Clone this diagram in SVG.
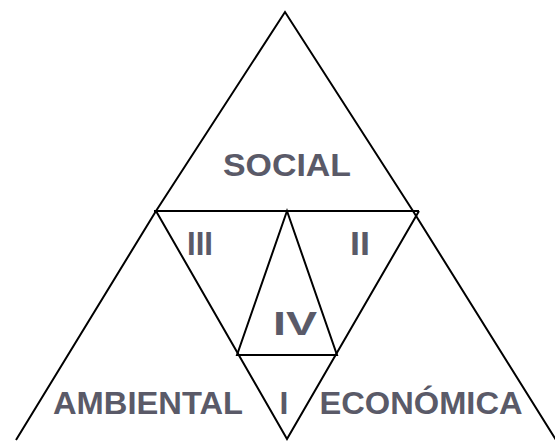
<svg xmlns="http://www.w3.org/2000/svg" width="555" height="441" viewBox="0 0 555 441">
<style>
.ln{stroke:#000;stroke-width:2;fill:none;stroke-linejoin:miter}
.t{font-family:"Liberation Sans",Arial,sans-serif;font-weight:bold;font-size:32px;fill:#5a5a68;text-anchor:middle}
.r{font-size:34px}
</style>
<rect width="555" height="441" fill="#fff"/>
<g id="connectors">
<polyline class="ln" points="16,440 156,211 285,12 413,211 556,440"/>
<line class="ln" x1="154" y1="211" x2="419" y2="211"/>
<polyline class="ln" points="156,211 287,439 419,211"/>
<polygon class="ln" points="287,211 237,355 337,355"/>
</g>
<g id="social"><text class="t" x="287" y="176" textLength="128" lengthAdjust="spacingAndGlyphs">SOCIAL</text></g>
<g id="ambiental"><text class="t" x="148" y="414" textLength="190" lengthAdjust="spacingAndGlyphs">AMBIENTAL</text></g>
<g id="economica"><text class="t" x="421" y="414" textLength="203" lengthAdjust="spacingAndGlyphs">ECONÓMICA</text></g>
<g id="iii"><text class="t r" x="200" y="255" textLength="26" lengthAdjust="spacingAndGlyphs">III</text></g>
<g id="ii"><text class="t r" x="360" y="255" textLength="20" lengthAdjust="spacingAndGlyphs">II</text></g>
<g id="iv"><text class="t r" x="295" y="335" textLength="44" lengthAdjust="spacingAndGlyphs">IV</text></g>
<g id="i"><text class="t" x="284" y="414">I</text></g>
</svg>
